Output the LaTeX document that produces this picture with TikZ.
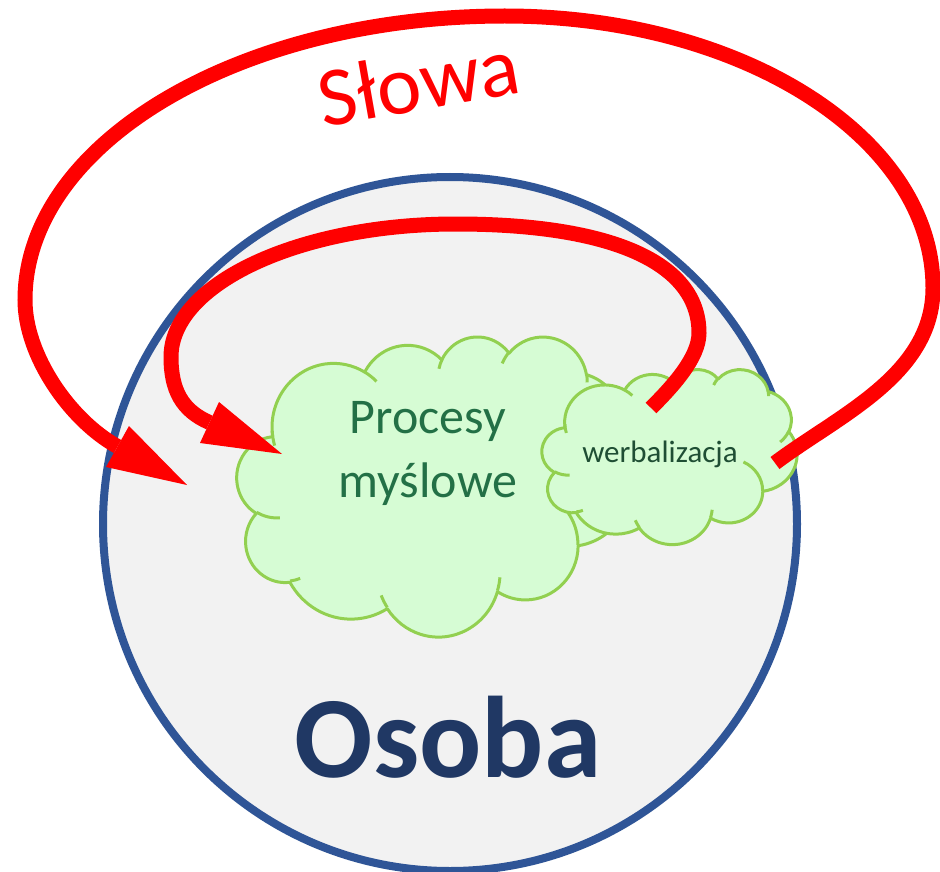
\documentclass[tikz,border=0pt]{standalone}
\usepackage{fontspec}
\setmainfont{Carlito}

\definecolor{wordred}{RGB}{255,0,0}
\definecolor{personfill}{RGB}{242,242,242}
\definecolor{personline}{RGB}{47,85,151}
\definecolor{persontext}{RGB}{32,56,100}
\definecolor{cloudfill}{RGB}{214,252,212}
\definecolor{cloudline}{RGB}{146,208,80}
\definecolor{thoughttext}{RGB}{35,112,70}
\definecolor{verbtext}{RGB}{31,78,52}

% One arc of the cloud outline: x radius, y radius, start angle, sweep.
% Angles are true (visual) angles on the ellipse; they are turned into
% the parametric angles that the arc operation expects.
\newcommand\carc[4]{%
  \pgfextra{%
    \pgfmathsetmacro\cloudta{atan2((#1)*sin(#3),(#2)*cos(#3))}%
    \pgfmathsetmacro\cloudtb{atan2((#1)*sin((#3)+(#4)),(#2)*cos((#3)+(#4)))}%
    \pgfmathsetmacro\cloudtd{mod(\cloudtb-\cloudta+720,360)}%
    \global\let\cloudta\cloudta
    \global\let\cloudtd\cloudtd}%
  arc[start angle=\cloudta, delta angle=\cloudtd, x radius=#1, y radius=#2]}

% Cloud outline in a 432 x 432 box
\newcommand\cloudoutline{%
  (39.00,143.70)
  \carc{67.53}{91.90}{-190.4875}{123.7805}
  \carc{53.33}{72.67}{-144.1024}{89.9452}
  \carc{43.65}{59.45}{-145.8079}{99.7230}
  \carc{48.57}{65.95}{-130.9861}{117.2417}
  \carc{53.33}{72.73}{-78.7089}{109.0269}
  \carc{67.75}{92.20}{-46.2673}{130.2690}
  \carc{57.85}{78.67}{0.6250}{114.0333}
  \carc{67.52}{92.15}{22.4516}{115.1726}
  \carc{77.20}{105.43}{66.2426}{75.7110}
  \carc{43.60}{59.18}{-274.9421}{146.7356}
  \carc{43.45}{59.45}{-246.8285}{152.5189}
  -- cycle}

% Short inner arcs where the puffs of the cloud overlap
\newcommand\cloudcreases{%
  (46.93,261.77) \carc{43.45}{59.45}{86.7420}{26.4295}
  (69.28,348.99) \carc{43.60}{59.18}{73.6105}{11.4475}
  (164.78,390.90) \carc{67.52}{92.15}{137.6242}{14.0811}
  (288.27,347.51) \carc{67.52}{92.15}{6.4533}{15.9984}
  (341.29,229.54) \carc{57.85}{78.67}{-70.2924}{70.9174}
  (417.98,153.54) \carc{53.33}{72.73}{30.3180}{27.7515}
  (383.24,54.26) \carc{48.57}{65.95}{-13.7443}{14.8589}
  (290.78,39.52) \carc{48.57}{65.95}{-149.1815}{18.1954}
  (221.41,47.20) \carc{43.65}{59.45}{-163.4943}{17.6864}
  (140.00,51.92) \carc{67.53}{91.90}{-66.7070}{12.3194}
  (41.27,157.89) \carc{67.53}{91.90}{158.1540}{18.1048}}

% \drawcloud{left}{top}{x unit}{y unit}
\newcommand\drawcloud[4]{%
  \begin{scope}[shift={(#1,#2)}, x={(#3pt,0pt)}, y={(0pt,-#4pt)}]
    \path[cloudbody] \cloudoutline;
    \path[cloudcrease] \cloudcreases;
  \end{scope}}

\begin{document}
\begin{tikzpicture}[x=1pt, y=-1pt,
    cloudbody/.style={fill=cloudfill, draw=cloudline, line width=3pt, line join=round},
    cloudcrease/.style={draw=cloudline, line width=3pt},
    personbody/.style={fill=personfill, draw=personline, line width=8pt},
    wordloop/.style={draw=wordred, line width=15pt},
    wordhead/.style={fill=wordred}]

  \useasboundingbox (0,0) rectangle (940,872);
  \fill[white] (0,0) rectangle (940,872);

  % the person
  \coordinate (person) at (450,524);
  \path[personbody] (person) circle[radius=347pt];

  % thought clouds
  \drawcloud{237}{336}{0.91204}{0.69444}
  \drawcloud{542}{369}{0.59028}{0.40509}

  % labels
  \node[text=thoughttext, align=center,
        font=\fontsize{50}{64}\selectfont] (thought) at (428,453)
        {Procesy\\myślowe};
  \node[text=verbtext, anchor=base,
        font=\fontsize{31}{36}\selectfont] (verbal) at (660,462) {werbalizacja};
  \node[text=persontext, anchor=base,
        font=\fontsize{116}{130}\selectfont\bfseries] (osoba) at (448,777) {Osoba};
  \node[text=wordred, anchor=base, rotate=10,
        font=\fontsize{84}{96}\selectfont] (slowa) at (423,110) {Słowa};

  % outer loop: spoken words come back to the person
  \coordinate (oStart) at (775,463);
  \coordinate (oRight) at (933,288);
  \coordinate (oTop)   at (505,16);
  \coordinate (oLeft)  at (25,300);
  \coordinate (oBase)  at (117.5,446.5);
  \coordinate (oTip)   at (187,485);
  \coordinate (oWingA) at (129,426);
  \coordinate (oWingB) at (106,467);
  \path[wordloop] (oStart) .. controls (839,415) and (933,375) .. (oRight)
        .. controls (933,137) and (741,16) .. (oTop)
        .. controls (240,16) and (25,143) .. (oLeft)
        .. controls (25,355) and (69.4,419.8) .. (oBase);
  \path[wordhead] (oTip) -- (oWingA) -- (oWingB) -- cycle;

  % inner loop: verbalisation feeds back into thinking
  \coordinate (iStart) at (651,408);
  \coordinate (iRight) at (699,333);
  \coordinate (iTop)   at (456,224);
  \coordinate (iLeft)  at (171,357);
  \coordinate (iBase)  at (209.5,422.5);
  \coordinate (iTip)   at (282,454);
  \coordinate (iWingA) at (219,402);
  \coordinate (iWingB) at (200,443);
  \path[wordloop] (iStart) .. controls (672,387) and (699,358) .. (iRight)
        .. controls (699,262) and (610,224) .. (iTop)
        .. controls (299,224) and (171,284) .. (iLeft)
        .. controls (171,390) and (182,410.6) .. (iBase);
  \path[wordhead] (iTip) -- (iWingA) -- (iWingB) -- cycle;
\end{tikzpicture}
\end{document}
